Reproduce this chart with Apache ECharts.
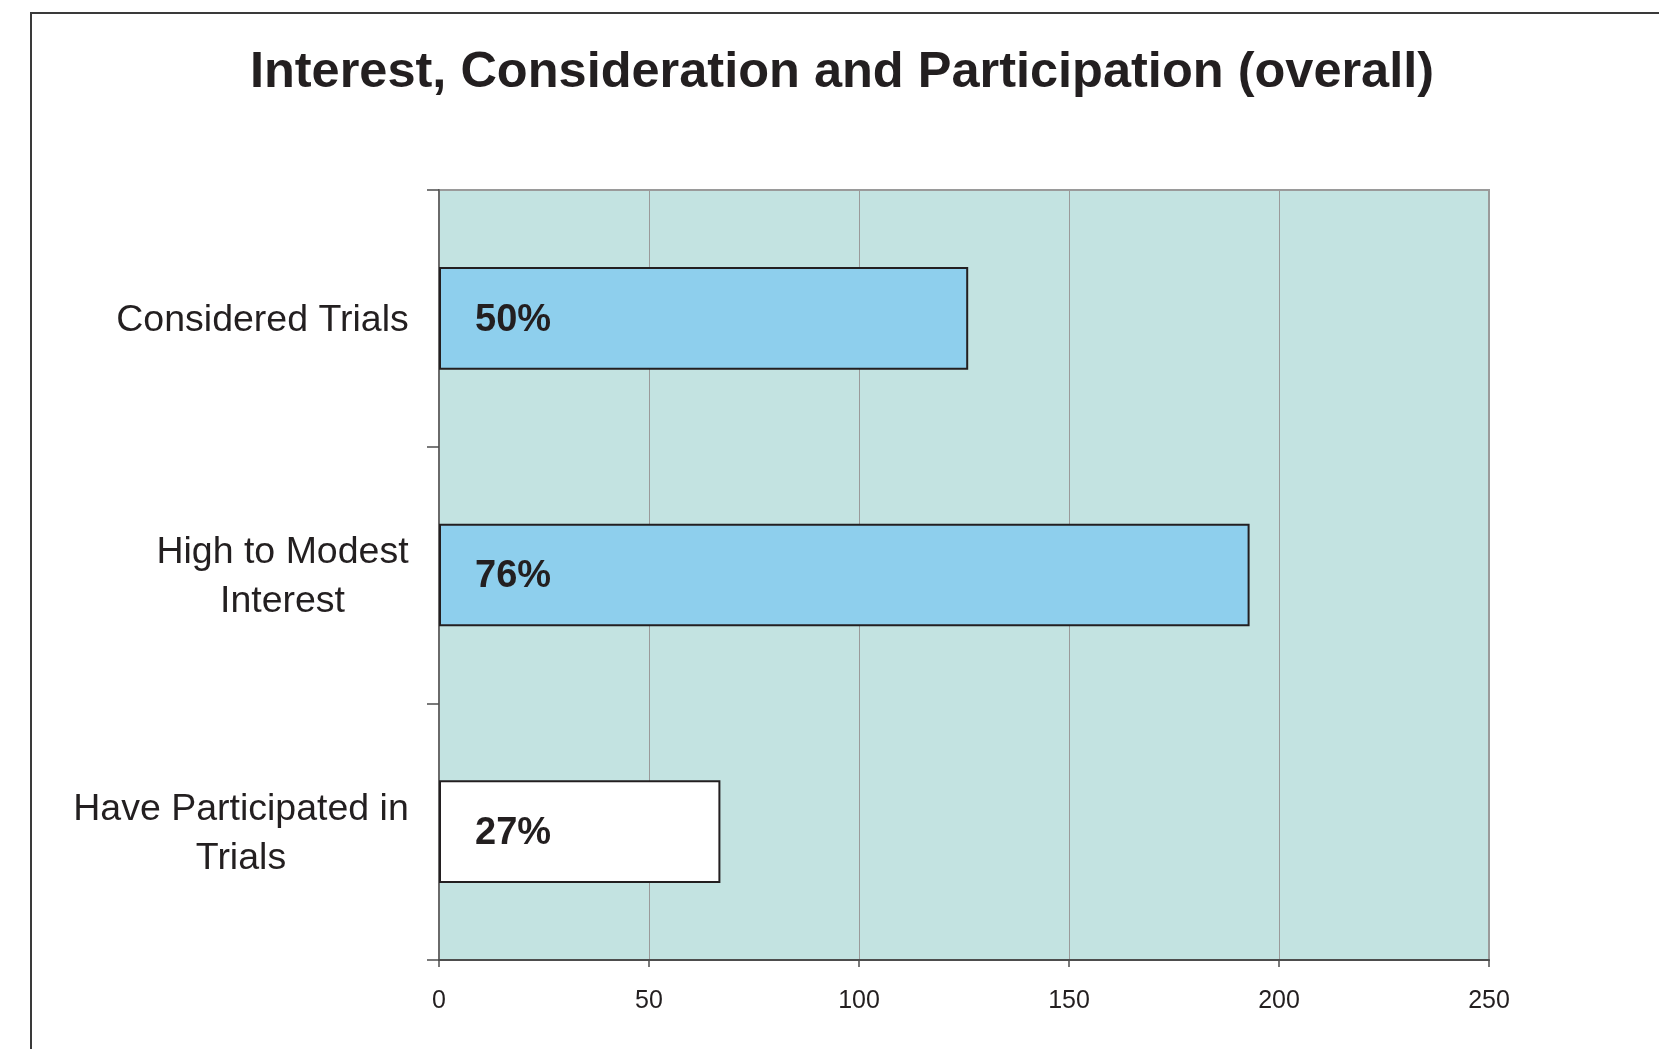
<!DOCTYPE html>
<html>
<head>
<meta charset="utf-8">
<title>Interest, Consideration and Participation (overall)</title>
<script src="https://cdn.jsdelivr.net/npm/echarts@6/dist/echarts.min.js"></script>
<style>
  html, body { margin: 0; padding: 0; background: #ffffff; }
  #chart { width: 1659px; height: 1049px; }
</style>
</head>
<body>
<div id="chart"></div>
<script>
// Survey responses, listed top to bottom
const categories = ['Considered Trials', 'High to Modest\nInterest', 'Have Participated in\nTrials'];
const respondents = [126, 193, 67];
const shareLabels = ['50%', '76%', '27%'];
const barFills = ['#8ecfed', '#8ecfed', '#ffffff'];
const xTicks = { min: 0, max: 250, interval: 50 };

const FONT = '"Liberation Sans", Arial, Helvetica, sans-serif';
const CAT_SIZE = 37.5;

// Width of each category label's widest line, so every line can be centred in its block
const measure = document.createElement('canvas').getContext('2d');
measure.font = CAT_SIZE + 'px ' + FONT;
const rich = {};
categories.forEach((c, i) => {
  const w = Math.max(...c.split('\n').map(line => measure.measureText(line).width));
  rich['c' + i] = {
    width: Math.ceil(w) + 2,
    align: 'center',
    fontSize: CAT_SIZE,
    lineHeight: 49,
    fontFamily: FONT,
    color: '#231f20'
  };
});

const chart = echarts.init(document.getElementById('chart'), null, { renderer: 'canvas' });

chart.setOption({
  backgroundColor: '#ffffff',
  animation: false,
  title: {
    text: 'Interest, Consideration and Participation (overall)',
    left: 837,
    textAlign: 'center',
    top: 43,
    textStyle: {
      fontFamily: FONT,
      fontWeight: 'bold',
      fontSize: 50.5,
      color: '#231f20'
    }
  },
  graphic: [{
    type: 'polyline',
    shape: { points: [[31, 1049], [31, 13], [1659, 13]] },
    style: { stroke: '#3a3a3a', lineWidth: 2, fill: null },
    silent: true
  }],
  grid: {
    left: 439,
    right: 170,
    top: 190,
    bottom: 89,
    show: true,
    backgroundColor: '#c3e3e1',
    borderColor: '#9a9a9a',
    borderWidth: 2
  },
  xAxis: {
    type: 'value',
    min: xTicks.min,
    max: xTicks.max,
    interval: xTicks.interval,
    axisLine: { show: true, lineStyle: { color: '#4d4d4d', width: 2 } },
    axisTick: { show: true, length: 7, lineStyle: { color: '#4d4d4d', width: 1.5 } },
    splitLine: { show: true, lineStyle: { color: '#9a9a9a', width: 1 } },
    axisLabel: {
      margin: 29,
      fontFamily: FONT,
      fontSize: 25,
      color: '#231f20'
    }
  },
  yAxis: {
    type: 'category',
    inverse: true,
    data: categories,
    axisLine: { show: true, lineStyle: { color: '#6a6a6a', width: 2 } },
    axisTick: { show: true, length: 12, lineStyle: { color: '#4d4d4d', width: 1.5 } },
    splitLine: { show: false },
    axisLabel: {
      margin: 29,
      padding: [5, 0, 0, 0],
      formatter: (value, idx) => value.split('\n').map(line => '{c' + idx + '|' + line + '}').join('\n'),
      rich: rich
    }
  },
  series: [{
    type: 'bar',
    barWidth: '40%',
    data: respondents.map((v, i) => ({
      value: v,
      itemStyle: { color: barFills[i], borderColor: '#231f20', borderWidth: 2 }
    })),
    label: {
      show: true,
      position: 'insideLeft',
      distance: 36,
      offset: [0, 2],
      formatter: p => shareLabels[p.dataIndex],
      fontFamily: FONT,
      fontWeight: 'bold',
      fontSize: 38,
      color: '#231f20'
    }
  }]
});
</script>
</body>
</html>
